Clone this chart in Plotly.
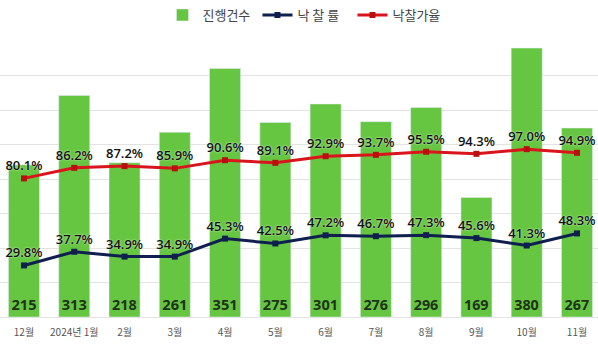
import plotly.graph_objects as go

months = ["12월", "2024년 1월", "2월", "3월", "4월", "5월", "6월", "7월", "8월", "9월", "10월", "11월"]
counts = [215, 313, 218, 261, 351, 275, 301, 276, 296, 169, 380, 267]
win_rate = [29.8, 37.7, 34.9, 34.9, 45.3, 42.5, 47.2, 46.7, 47.3, 45.6, 41.3, 48.3]
price_rate = [80.1, 86.2, 87.2, 85.9, 90.6, 89.1, 92.9, 93.7, 95.5, 94.3, 97.0, 94.9]

font_family = "Noto Sans CJK KR, Noto Sans, sans-serif"
x = list(range(len(months)))

fig = go.Figure()
fig.add_trace(go.Bar(
    x=x, y=counts, name="진행건수", marker_color="#66c641",
    text=[str(c) for c in counts], textposition="inside", insidetextanchor="start",
    textangle=0,
    textfont=dict(size=15, color="#1e3319", family="Open Sans", weight="bold"),
    yaxis="y", cliponaxis=False,
))
fig.add_trace(go.Scatter(
    x=x, y=win_rate, name="낙 찰 률", mode="lines+markers+text",
    line=dict(color="#0f1f4f", width=3), marker=dict(symbol="square", size=6, color="#0f1f4f"),
    text=[f"{v:.1f}%" for v in win_rate], textposition="top center",
    textfont=dict(size=13, color="#111", family="Open Sans", weight=600, shadow="0px 0px 2px white"),
    yaxis="y2", cliponaxis=False,
))
fig.add_trace(go.Scatter(
    x=x, y=price_rate, name="낙찰가율", mode="lines+markers+text",
    line=dict(color="#d9141c", width=3), marker=dict(symbol="square", size=6, color="#b8100f"),
    text=[f"{v:.1f}%" for v in price_rate], textposition="top center",
    textfont=dict(size=13, color="#111", family="Open Sans", weight=600, shadow="0px 0px 2px white"),
    yaxis="y2", cliponaxis=False,
))

step = 390 / 8
fig.update_layout(
    width=598, height=346,
    margin=dict(l=0, r=0, t=41, b=29),
    paper_bgcolor="white", plot_bgcolor="white",
    bargap=0.383,
    font=dict(family=font_family),
    showlegend=True,
    legend=dict(orientation="h", x=0.51, xanchor="center", y=1.04, yanchor="bottom",
                font=dict(size=13, color="#444", family=font_family),
                entrywidth=50, traceorder="normal"),
    xaxis=dict(tickvals=x, ticktext=months, range=[-0.477, 11.418],
               tickfont=dict(size=10, color="#555", family=font_family),
               ticklabelstandoff=6,
               showgrid=False, showline=True, linecolor="#e3e3e3", ticks="", zeroline=False),
    yaxis=dict(range=[0, 390], tickvals=[i * step for i in range(9)], showticklabels=False,
               showgrid=True, gridcolor="#e3e3e3", gridwidth=1, zeroline=False),
    yaxis2=dict(range=[0, 159.5], overlaying="y", side="right", showgrid=False,
                showticklabels=False, zeroline=False),
)

fig.write_html("out.html")
